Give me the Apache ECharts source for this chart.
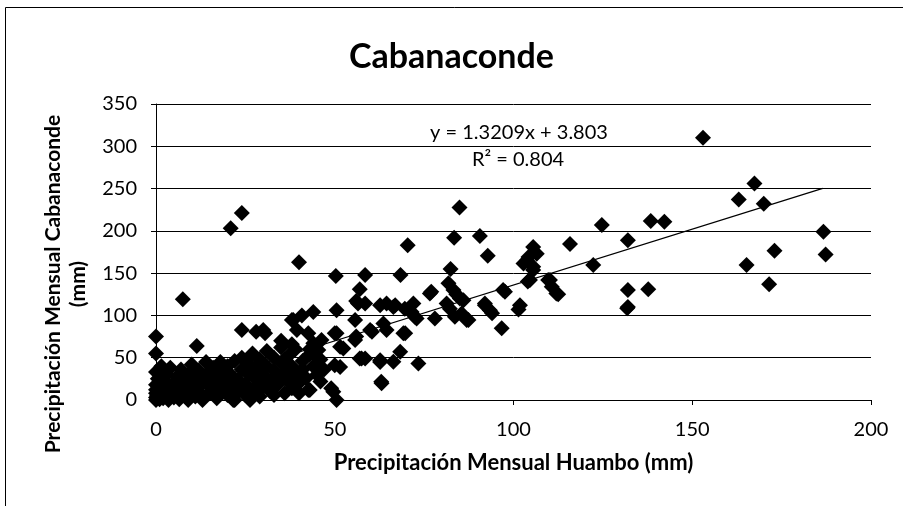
<!DOCTYPE html>
<html>
<head>
<meta charset="utf-8">
<script src="https://cdn.jsdelivr.net/npm/echarts@6/dist/echarts.min.js"></script>
<style>
  html, body { margin: 0; padding: 0; background: #fff; }
  #chart { width: 903px; height: 506px; }
</style>
</head>
<body>
<div id="chart"></div>
<script>
// Monthly precipitation pairs (mm): Huambo (x) vs Cabanaconde (y)
const huambo = [
  24, 20.9, 40, 7.5, 50.3, 58.5, 57, 56, 50.5, 55.7, 62.7, 59.9, 56, 57, 62.7, 63, 50.5, 49, 43, 38.4,
  44, 39.4, 24, 30, 0, 0, 11.4, 50.5, 51.5, 45.4, 44, 51.5, 21.6, 26.3,
  84.9, 83.4, 90.6, 70.4, 92.8, 124.7, 115.8, 132, 105.5, 106.5, 103.7, 105.5, 104, 122.3, 109.7, 110.7,
  112.5, 132, 132, 68.4, 82.4, 77, 81.8, 83.2, 85, 81.3, 82.2, 85.5, 87.4, 92, 93.4, 97.1, 101.4, 96.7,
  78, 72, 71.5, 72.9, 66.4, 64.5, 63.6, 69.7, 68.3, 66.4, 73.4, 63.1, 62.7,
  153, 167.4, 163, 170, 138.4, 142.2, 186.7, 187.3, 173, 165.2, 171.5, 137.7, 131.8,
  40.8, 56.5, 30.5, 38, 42.6, 46.3, 50, 52.4, 55.7, 57.5, 50, 44.5, 42.6, 49.6, 35.2, 29.6, 28,
  76.6, 84, 86, 92, 94, 86.9, 83.6, 72.4, 69.6, 66.9, 60.4, 64.5, 69.2, 58.5, 58.5,
  104.2, 102.8, 105.5, 104.6, 110.2, 112, 97.6, 101.8,
  0, 0, 0, 0, 0, 0.5, 0, 0.3, 1, 1, 1.5, 2, 2, 2.5, 3, 3, 3.5, 4, 4, 5,
  5, 5.5, 6, 6.5, 7, 7, 8, 8, 9, 9, 9.5, 10, 10, 11, 11, 12, 12, 13, 13, 14,
  14, 15, 15, 16, 16, 17, 17, 18, 18, 19, 19, 20, 20, 21, 21, 22, 22, 23, 23, 24,
  24, 25, 25, 26, 26, 27, 27, 28, 28, 29, 29, 30, 30, 31, 31, 32, 32, 33, 33, 34,
  34, 35, 35, 36, 36, 37, 37, 38, 38, 39, 39, 40, 41, 41, 42, 43, 44, 45, 46, 46,
  3, 7, 11, 16, 19, 26, 29, 33, 36, 40, 43, 47, 35, 38
];
const cabanaconde = [
  221, 203, 163, 119, 146.6, 147.8, 131, 117, 106, 94.6, 112, 82.7, 75, 49, 45, 21.7, 0, 13.8, 11.8, 94.6,
  104, 82.7, 82.7, 82.7, 75, 55, 63.8, 78.8, 63, 59, 67, 39, 0, 0,
  227.7, 191.9, 194, 183, 170.6, 206.9, 184.4, 189, 181, 173, 165, 153.7, 140, 159.6, 141.8, 134,
  125, 130, 110, 147.8, 154.8, 128, 138, 130, 120, 114, 108, 102.4, 94.6, 114, 106, 130, 107, 84.7,
  96.5, 114, 104, 96.5, 110, 114, 90.6, 78.8, 57, 45.3, 43.3, 19.7, 47,
  310, 256, 237, 232, 211.6, 210.8, 199, 172, 176.5, 159.6, 137, 131, 108.4,
  100, 114, 79, 94.6, 79, 71, 79, 61, 71, 49, 41, 53, 11.8, 9.8, 27.5, 13.8, 80.7,
  126, 125, 118, 112, 102.5, 94.6, 98.5, 98.5, 108, 112, 80.7, 82.7, 78.8, 49, 114,
  169, 161.5, 157.6, 141.8, 141.8, 126, 128, 112,
  0, 3, 8, 12, 18, 25, 33, 5, 1, 15, 40, 2, 10, 22, 5, 30, 0, 14, 38, 3,
  20, 9, 28, 1, 15, 36, 5, 24, 0, 12, 32, 18, 42, 4, 27, 10, 35, 20, 0, 30,
  45, 8, 16, 25, 38, 2, 33, 12, 45, 22, 28, 6, 40, 16, 30, 0, 46, 10, 24, 36,
  50, 18, 6, 30, 42, 12, 55, 24, 38, 4, 48, 16, 30, 40, 58, 10, 22, 35, 50, 18,
  28, 44, 62, 8, 32, 22, 52, 40, 14, 30, 60, 20, 46, 36, 26, 54, 40, 30, 22, 48,
  20, 26, 34, 20, 35, 14, 44, 6, 48, 8, 60, 36, 70, 66
];

// Linear fit shown on the chart: y = slope * x + intercept
const slope = 1.3209;
const intercept = 3.803;
const fitRange = [0, 186.5];

const xTicks = [0, 50, 100, 150, 200];
const yTicks = [0, 50, 100, 150, 200, 250, 300, 350];

const points = huambo.map((x, i) => [x, cabanaconde[i]]);
const fitLine = fitRange.map(x => [x, slope * x + intercept]);

const FONT = 'Lato, "Open Sans", sans-serif';
const chart = echarts.init(document.getElementById('chart'), null, { renderer: 'canvas' });

chart.setOption({
  backgroundColor: '#fff',
  animation: false,
  title: {
    text: 'Cabanaconde',
    left: 'center',
    top: 35,
    textStyle: { fontFamily: FONT, fontSize: 34, fontWeight: 'bold', color: '#000' }
  },
  grid: { left: 156, right: 32, top: 104, bottom: 106 },
  xAxis: {
    type: 'value',
    min: xTicks[0],
    max: xTicks[xTicks.length - 1],
    interval: 50,
    name: 'Precipitación Mensual Huambo (mm)',
    nameLocation: 'middle',
    nameGap: 52,
    nameMoveOverlap: false,
    nameTextStyle: { fontFamily: FONT, fontSize: 22, fontWeight: 'bold', color: '#000' },
    axisLine: { show: true, lineStyle: { color: '#000', width: 1 } },
    axisTick: { show: true, length: 5, lineStyle: { color: '#000' } },
    axisLabel: { fontFamily: FONT, fontSize: 20, color: '#000', margin: 20 },
    splitLine: { show: false }
  },
  yAxis: {
    type: 'value',
    min: yTicks[0],
    max: yTicks[yTicks.length - 1],
    interval: 50,
    axisLine: { show: true, lineStyle: { color: '#000', width: 1 } },
    axisTick: { show: true, inside: false, length: 5, lineStyle: { color: '#000' } },
    axisLabel: { fontFamily: FONT, fontSize: 20, color: '#000', margin: 19 },
    splitLine: { show: true, lineStyle: { color: '#000', width: 1 } }
  },
  graphic: [
    {
      type: 'rect',
      shape: { x: 5.5, y: 7.5, width: 1200, height: 1200 },
      style: { fill: 'none', stroke: '#000', lineWidth: 1 },
      silent: true
    },
    {
      // vertical axis title, two lines, reading bottom-to-top
      type: 'text',
      x: 66, y: 284,
      rotation: Math.PI / 2,
      style: {
        text: 'Precipitación Mensual Cabanaconde\n(mm)',
        fontFamily: FONT, fontSize: 21, fontWeight: 'bold', fill: '#000',
        lineHeight: 25, align: 'center', verticalAlign: 'middle'
      }
    },
    {
      type: 'text',
      x: 519, y: 133,
      style: { text: 'y = 1.3209x + 3.803', fontFamily: FONT, fontSize: 20, fill: '#000', align: 'center', verticalAlign: 'middle' }
    },
    {
      type: 'text',
      x: 518, y: 160,
      style: { text: 'R² = 0.804', fontFamily: FONT, fontSize: 20, fill: '#000', align: 'center', verticalAlign: 'middle' }
    }
  ],
  series: [
    {
      type: 'scatter',
      data: points,
      symbol: 'diamond',
      symbolSize: 16,
      itemStyle: { color: '#000', opacity: 1 },
      z: 3
    },
    {
      type: 'line',
      data: fitLine,
      showSymbol: false,
      symbol: 'none',
      lineStyle: { color: '#000', width: 1.2 },
      z: 4
    }
  ]
});
</script>
</body>
</html>
